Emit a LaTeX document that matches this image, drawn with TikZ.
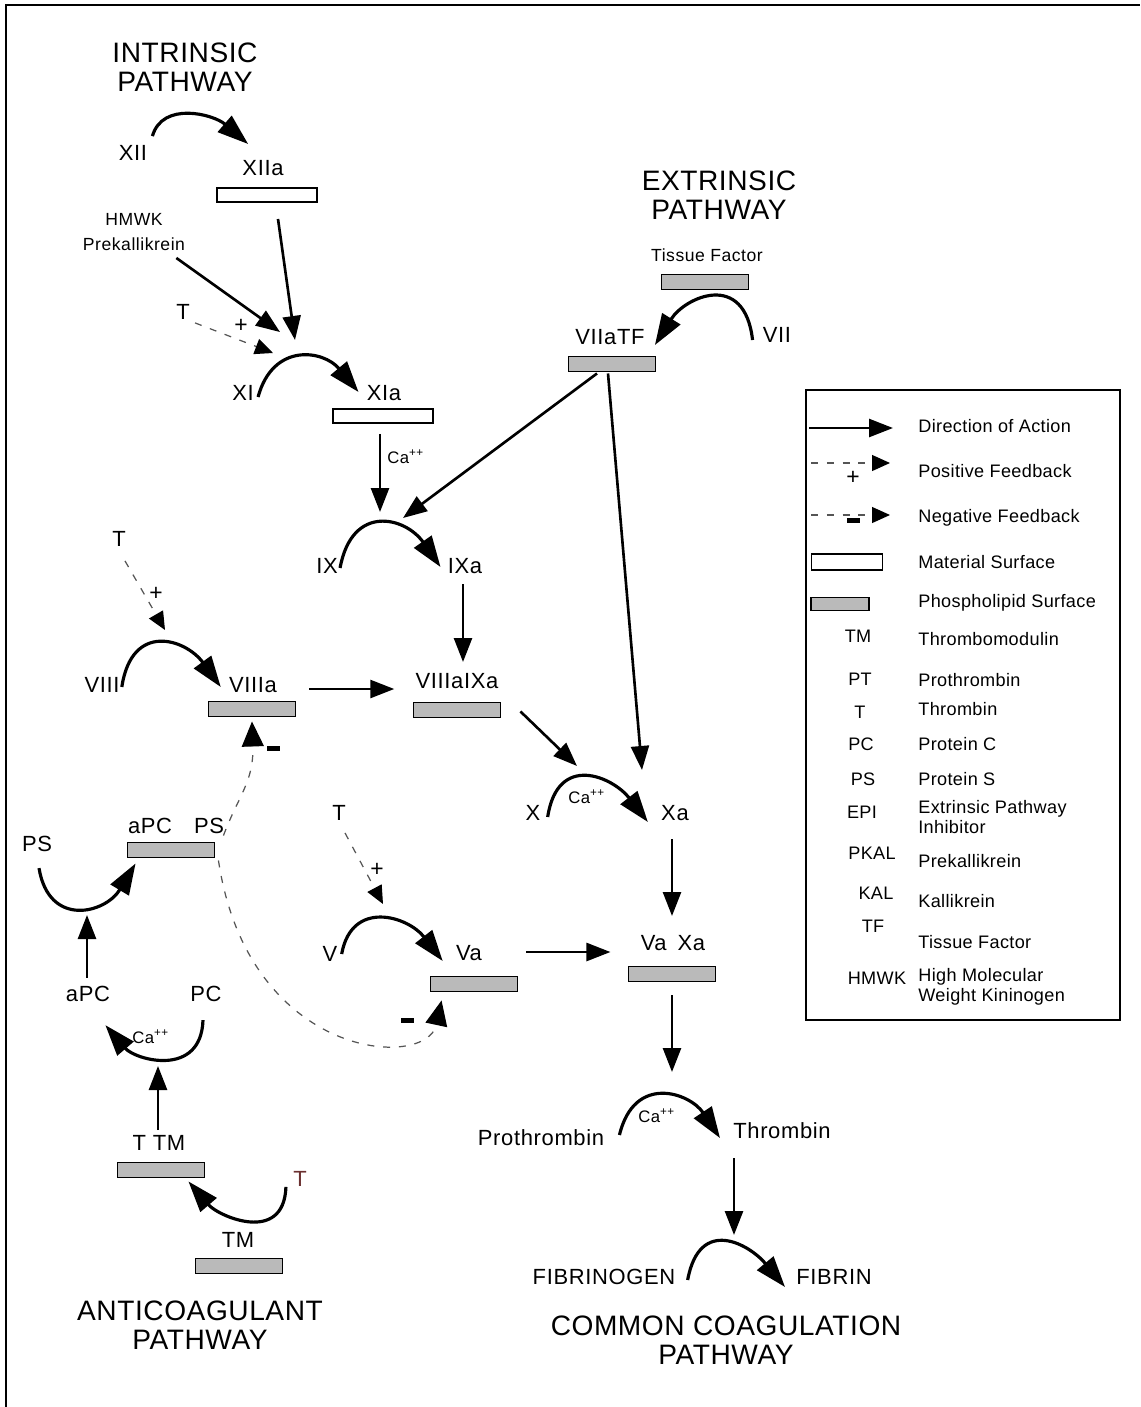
\documentclass[tikz,border=0pt]{standalone}
\usepackage{fontspec}
\setmainfont{Liberation Sans}
\newfontfamily\labfont{Liberation Sans}[LetterSpace=3]
\newfontfamily\smallfont{Liberation Sans}[LetterSpace=3]
\newfontfamily\keyfont{Liberation Sans}[LetterSpace=2]
\newfontfamily\headfont{Liberation Sans}[LetterSpace=2]
\usepackage{tikz}
\usetikzlibrary{arrows.meta}
\definecolor{surfgray}{HTML}{BABABA}
\definecolor{dashgray}{HTML}{555555}
\definecolor{tbrown}{HTML}{6B3030}

\begin{document}
\begin{tikzpicture}[
  x=0.02cm, y=-0.02cm,
  lab/.style={inner sep=0pt, font={\labfont\fontsize{12.5}{14}\selectfont}},
  tiny/.style={inner sep=0pt, align=center, font={\smallfont\fontsize{10}{14.2}\selectfont}},
  ca/.style={inner sep=0pt, anchor=base west, font={\smallfont\fontsize{9.5}{10}\selectfont}},
  title/.style={inner sep=0pt, align=center, font={\headfont\fontsize{16}{16.5}\selectfont}},
  key/.style={inner sep=0pt, font={\keyfont\fontsize{10.3}{11.4}\selectfont}},
  keytext/.style={key, anchor=west, align=left},
  plus/.style={inner sep=0pt, font={\fontsize{13}{13}\selectfont}},
  negbar/.style={fill=black, minimum width=0.26cm, minimum height=0.1cm, inner sep=0pt},
  matsurf/.style={draw, line width=1.1pt, fill=white, minimum width=2cm, minimum height=0.28cm, inner sep=0pt},
  phossurf/.style={draw, line width=1.1pt, fill=surfgray, minimum width=1.74cm, minimum height=0.3cm, inner sep=0pt},
  act/.style={-{Triangle[length=0.48cm,width=0.36cm]}, line width=1.5pt},
  conv/.style={-{Triangle[length=0.62cm,width=0.42cm]}, line width=1.8pt},
  fb/.style={-{Triangle[length=0.36cm,width=0.32cm,color=black]}, draw=dashgray, line width=0.7pt, dash pattern=on 4pt off 5pt},
  neg/.style={fb, -{Triangle[length=0.5cm,width=0.44cm,color=black]}}
]
\useasboundingbox (0,0) rectangle (1140,1407);
\draw[line width=1.4pt] (6,1407) -- (6,5) -- (1140,5);

% pathway titles
\node[title] (intr) at (185,67) {INTRINSIC\\PATHWAY};
\node[title] (extr) at (719,195) {EXTRINSIC\\PATHWAY};
\node[title] (anti) at (200,1325) {ANTICOAGULANT\\PATHWAY};
\node[title] (common) at (726,1340) {COMMON COAGULATION\\PATHWAY};

% intrinsic pathway
\node[lab] (XII) at (133,153) {XII};
\node[lab] (XIIa) at (263,168) {XIIa};
\node[matsurf] (xiiabox) at (267,195) {};
\node[tiny] (hmwk) at (134,232) {HMWK\\Prekallikrein};
\node[lab] (T1) at (183,312) {T};
\node[plus] (pl1) at (241,326) {+};
\node[lab] (XI) at (243,393) {XI};
\node[lab] (XIa) at (384,393) {XIa};
\node[matsurf] (xiabox) at (383,416) {};
\node[ca] (ca1) at (387,463) {Ca\textsuperscript{++}};
\node[lab] (IX) at (327,566) {IX};
\node[lab] (IXa) at (465,566) {IXa};
\coordinate (xiinA) at (280,332);
\coordinate (xiinB) at (295,340);
\coordinate (xiinC) at (273,353);
\coordinate (ixinA) at (380,512);
\coordinate (ixinB) at (403,518);

\draw[conv] ([shift={(5,-9)}]XII.north east) .. controls +(10,-35) and +(-35,-30) .. ([shift={(6,-16)}]XIIa.north west);
\draw[act] ([shift={(-9,7)}]hmwk.south east) -- (xiinA);
\draw[act] ([shift={(11,16)}]xiiabox.south) -- (xiinB);
\draw[fb] ([shift={(5,3)}]T1.south east) -- (xiinC);
\draw[conv] ([shift={(4,4)}]XI.east) .. controls +(15,-55) and +(-35,-42) .. ([shift={(-8,-1)}]XIa.west);
\draw[act] ([shift={(-3,10)}]xiabox.south) -- (ixinA);
\draw[conv] ([shift={(2,2)}]IX.east) .. controls +(12,-65) and +(-35,-50) .. ([shift={(-7,1)}]IXa.west);

% extrinsic pathway
\node[tiny] (tissue) at (707,255) {Tissue Factor};
\node[phossurf] (tfbox) at (705,282) {};
\node[lab] (VIIaTF) at (610,337) {VIIaTF};
\node[phossurf] (viiatfbox) at (612,364) {};
\node[lab] (VII) at (777,335) {VII};
\draw[conv] ([shift={(-10,5)}]VII.west) .. controls +(-8,-70) and +(30,-48) .. ([shift={(10,8)}]VIIaTF.east);
\draw[act] ([shift={(-15,1)}]viiatfbox.south) -- (ixinB);

% VIII and X
\node[lab] (T2) at (119,539) {T};
\node[plus] (pl2) at (156,594) {+};
\coordinate (viiiin) at (165,630);
\node[lab] (VIII) at (102,685) {VIII};
\node[lab] (VIIIa) at (253,685) {VIIIa};
\node[phossurf] (viiiabox) at (252,709) {};
\node[lab] (VIIIaIXa) at (457,681) {VIIIaIXa};
\node[phossurf] (viiiaixabox) at (457,710) {};
\node[negbar] (mi1) at (273,748) {};
\draw[fb] ([shift={(6,14)}]T2.south) -- (viiiin);
\draw[conv] ([shift={(2,2)}]VIII.east) .. controls +(10,-66) and +(-35,-48) .. ([shift={(-8,2)}]VIIIa.west);
\draw[act] ([shift={(-2,10)}]IXa.south) -- ([shift={(6,-11)}]VIIIaIXa.north);
\draw[act] ([shift={(32,4)}]VIIIa.east) -- ([shift={(-21,8)}]VIIIaIXa.west);

\node[lab] (X) at (533,813) {X};
\node[ca] (ca2) at (568,803) {Ca\textsuperscript{++}};
\node[lab] (Xa) at (675,813) {Xa};
\coordinate (xinA) at (577,766);
\coordinate (xinB) at (642,770);
\draw[act] ([shift={(19,-7)}]viiiaixabox.south east) -- (xinA);
\draw[act] ([shift={(-4,1)}]viiatfbox.south) -- (xinB);
\draw[conv] ([shift={(7,4)}]X.east) .. controls +(10,-65) and +(-35,-45) .. ([shift={(-13,9)}]Xa.west);

% V and prothrombinase
\node[lab] (T3) at (339,813) {T};
\node[plus] (pl3) at (377,870) {+};
\coordinate (vin) at (383,904);
\node[lab] (V) at (330,954) {V};
\node[lab] (Va) at (469,953) {Va};
\node[phossurf] (vabox) at (474,984) {};
\node[negbar] (mi2) at (407,1020) {};
\node[lab] (VaXa) at (673,943) {Va\enspace Xa};
\node[phossurf] (vaxabox) at (672,974) {};
\draw[fb] ([shift={(6,12)}]T3.south) -- (vin);
\draw[conv] ([shift={(4,0)}]V.east) .. controls +(10,-55) and +(-35,-45) .. ([shift={(-13,8)}]Va.west);
\draw[act] ([shift={(-3,18)}]Xa.south) -- ([shift={(-1,-19)}]VaXa.north);
\draw[act] ([shift={(44,-1)}]Va.east) -- ([shift={(-30,9)}]VaXa.west);

% common pathway
\node[lab] (Prothrombin) at (541,1138) {Prothrombin};
\node[ca] (ca4) at (638,1122) {Ca\textsuperscript{++}};
\node[lab] (Thrombin) at (782,1131) {Thrombin};
\node[lab] (FIBRINOGEN) at (604,1277) {FIBRINOGEN};
\node[lab] (FIBRIN) at (834,1277) {FIBRIN};
\coordinate (ptin) at (672,1072);
\coordinate (fgin) at (734,1235);
\draw[act] ([shift={(0,13)}]vaxabox.south) -- (ptin);
\draw[conv] ([shift={(15,-3)}]Prothrombin.east) .. controls +(15,-62) and +(-30,-45) .. ([shift={(-13,7)}]Thrombin.west);
\draw[act] ([shift={(-48,19)}]Thrombin.south) -- (fgin);
\draw[conv] ([shift={(12,3)}]FIBRINOGEN.east) .. controls +(12,-65) and +(-35,-42) .. ([shift={(-11,10)}]FIBRIN.west);

% anticoagulant pathway
\node[lab] (apcps) at (176,826) {aPC\quad PS};
\node[phossurf] (apcbox) at (171,850) {};
\node[lab] (PS) at (37,844) {PS};
\node[lab] (aPC) at (88,994) {aPC};
\node[lab] (PC) at (206,994) {PC};
\node[ca] (ca3) at (132,1043) {Ca\textsuperscript{++}};
\node[lab] (ttm) at (159,1143) {T TM};
\node[phossurf] (ttmbox) at (161,1170) {};
\node[lab, text=tbrown] (T4) at (300,1179) {T};
\node[lab] (TM) at (238,1240) {TM};
\node[phossurf] (tmbox) at (239,1266) {};
\coordinate (psin) at (87,915);
\coordinate (pcin) at (158,1066);
\draw[conv] ([shift={(2,16)}]PS.south) .. controls +(10,60) and +(-30,50) .. ([shift={(9,5)}]apcbox.south west);
\draw[act] ([shift={(-1,-8)}]aPC.north) -- (psin);
\draw[conv] ([shift={(-3,18)}]PC.south) .. controls +(-2,58) and +(30,35) .. ([shift={(-5,23)}]aPC.south east);
\draw[act] ([shift={(-1,-5)}]ttm.north) -- (pcin);
\draw[conv] ([shift={(-7,0)}]T4.south west) .. controls +(-2,58) and +(30,35) .. ([shift={(-17,3)}]ttmbox.south east);
\draw[neg] ([shift={(8,-6)}]apcbox.north east) .. controls +(15,-40) and +(2,60) .. ([shift={(0,4)}]viiiabox.south);
\draw[neg] ([shift={(3,2)}]apcbox.south east) .. controls +(30,200) and +(-15,70) .. ([shift={(12,8)}]vabox.south west);

% legend
\draw[line width=1.2pt] (806,390) rectangle (1120,1020);
\coordinate (lgdirA) at (809,428);
\coordinate (lgdirB) at (893,428);
\coordinate (lgposA) at (811,463);
\coordinate (lgposB) at (890,463);
\coordinate (lgnegA) at (811,515);
\coordinate (lgnegB) at (890,515);
\draw[act] (lgdirA) -- (lgdirB);
\draw[fb] (lgposA) -- (lgposB);
\draw[fb] (lgnegA) -- (lgnegB);
\node[plus] (lgplus) at (853,478) {+};
\node[negbar] (lgminus) at (853,520) {};
\node[matsurf, minimum width=1.42cm, minimum height=0.32cm] (lgmat) at (847,562) {};
\node[phossurf, minimum width=1.16cm, minimum height=0.26cm] (lgphos) at (840,604) {};
\node[keytext] (kdir) at (918,426) {Direction of Action};
\node[keytext] (kpos) at (918,471) {Positive Feedback};
\node[keytext] (kneg) at (918,518) {Negative Feedback};
\node[keytext] (kmat) at (918,562) {Material Surface};
\node[keytext] (kphos) at (918,603) {Phospholipid Surface};
\node[key] (aTM) at (858,636) {TM};
\node[keytext] (kTM) at (918,639) {Thrombomodulin};
\node[key] (aPT) at (860,679) {PT};
\node[keytext] (kPT) at (918,680) {Prothrombin};
\node[key] (aT) at (860,712) {T};
\node[keytext] (kT) at (918,709) {Thrombin};
\node[key] (aPC2) at (861,744) {PC};
\node[keytext] (kPC) at (918,744) {Protein C};
\node[key] (aPS) at (863,779) {PS};
\node[keytext] (kPS) at (918,779) {Protein S};
\node[key] (aEPI) at (862,812) {EPI};
\node[keytext] (kEPI) at (918,817) {Extrinsic Pathway\\Inhibitor};
\node[key] (aPKAL) at (872,853) {PKAL};
\node[keytext] (kPKAL) at (918,861) {Prekallikrein};
\node[key] (aKAL) at (876,893) {KAL};
\node[keytext] (kKAL) at (918,901) {Kallikrein};
\node[key] (aTF) at (873,926) {TF};
\node[keytext] (kTF) at (918,942) {Tissue Factor};
\node[key] (aHMWK) at (877,978) {HMWK};
\node[keytext] (kHMWK) at (918,987) {High Molecular\\Weight Kininogen};
\end{tikzpicture}
\end{document}
